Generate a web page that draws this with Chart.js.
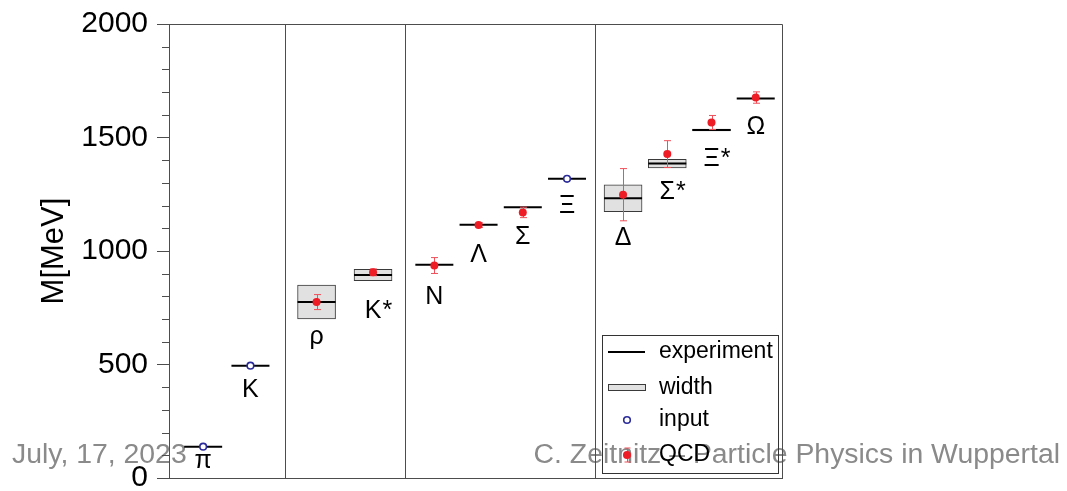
<!DOCTYPE html>
<html>
<head>
<meta charset="utf-8">
<title>Hadron masses</title>
<script src="https://cdn.jsdelivr.net/npm/chart.js@4/dist/chart.umd.min.js"></script>
<style>
  html, body { margin: 0; padding: 0; background: #fff; }
  #wrap { width: 1067px; height: 491px; position: relative; }
</style>
</head>
<body>
<div id="wrap"><canvas id="massChart"></canvas></div>
<script>
// Light hadron spectrum: experiment vs. lattice QCD
const particles = ['π', 'K', 'ρ', 'K*', 'N', 'Λ', 'Σ', 'Ξ', 'Δ', 'Σ*', 'Ξ*', 'Ω'];
const xPos = [0.78, 1.86, 3.37, 4.66, 6.06, 7.07, 8.08, 9.09, 10.37, 11.38, 12.39, 13.40];
const expMass = [138, 495, 775, 894, 939, 1116, 1193, 1318, 1232, 1385, 1533, 1672];
const decayWidth = [null, null, 149, 50, null, null, null, null, 118, 38, 9, null];
const inputMass = [138, 495, null, null, null, null, null, 1318, null, null, null, null];
const qcdMass = [null, null, 775, 906, 936, 1114, 1170, null, 1248, 1427, 1566, 1676];
const qcdErr = [null, null, 33, 15, 35, 10, 23, null, 115, 59, 31, 25];
const groupEdges = [2.66, 5.39, 9.73];
const majorStep = 500;
const minorStep = 100;
const legendLabels = ['experiment', 'width', 'input', 'QCD'];
const footerLeft = 'July, 17, 2023';
const footerRight = 'C. Zeitnitz – Particle Physics in Wuppertal';

const FONT = '"Liberation Sans", Arial, sans-serif';
const FRAME = '#4d4d4d';
const RED = '#ee1c25';
const RED_BAR = '#f0505a';
const BLUE = '#2b2b9b';

// gap (px) between the lowest edge of a mark and its label baseline
const labelGap = [21, 31, 25, 37, 39, 37, 37, 34, 33, 31, 35, 36];

const boxData = [];
const expData = [];
const inputData = [];
const qcdData = [];
particles.forEach((p, i) => {
    expData.push({ x: xPos[i], y: expMass[i] });
    if (decayWidth[i] != null) {
        boxData.push({ x: xPos[i], y: [expMass[i] - decayWidth[i] / 2, expMass[i] + decayWidth[i] / 2] });
    }
    if (inputMass[i] != null) inputData.push({ x: xPos[i], y: inputMass[i] });
    if (qcdMass[i] != null) qcdData.push({ x: xPos[i], y: qcdMass[i] });
});

function drawErrorBar(ctx, px, top, bot, cap) {
    ctx.beginPath();
    ctx.moveTo(px, top); ctx.lineTo(px, bot);
    ctx.moveTo(px - cap, top); ctx.lineTo(px + cap, top);
    ctx.moveTo(px - cap, bot); ctx.lineTo(px + cap, bot);
    ctx.stroke();
}

const decorations = {
    id: 'decorations',
    beforeDraw(chart) {
        // slide footer sits underneath the plot
        const { ctx } = chart;
        ctx.save();
        ctx.fillStyle = '#8a8a8a';
        ctx.font = '28.4px ' + FONT;
        ctx.textBaseline = 'alphabetic';
        ctx.textAlign = 'left';
        ctx.fillText(footerLeft, 12, 463);
        ctx.textAlign = 'right';
        ctx.fillText(footerRight, 1060, 463);
        ctx.restore();
    },
    beforeDatasetDraw(chart, args) {
        if (args.meta.label !== 'QCD') return;
        const { ctx, scales: { x, y } } = chart;
        ctx.save();
        ctx.strokeStyle = RED_BAR;
        ctx.lineWidth = 1;
        qcdMass.forEach((m, i) => {
            if (m == null) return;
            const px = Math.round(x.getPixelForValue(xPos[i])) + 0.5;
            drawErrorBar(ctx, px, y.getPixelForValue(m + qcdErr[i]), y.getPixelForValue(m - qcdErr[i]), 3.5);
        });
        ctx.restore();
    },
    afterDatasetsDraw(chart) {
        const { ctx, chartArea: a, scales: { x, y } } = chart;
        ctx.save();

        // frame (top and right sides)
        ctx.strokeStyle = FRAME;
        ctx.lineWidth = 1;
        ctx.beginPath();
        ctx.moveTo(Math.round(a.left) + 0.5, Math.round(a.top) + 0.5);
        ctx.lineTo(Math.round(a.right) + 0.5, Math.round(a.top) + 0.5);
        ctx.lineTo(Math.round(a.right) + 0.5, Math.round(a.bottom) + 0.5);
        ctx.stroke();

        // minor ticks on the mass axis
        ctx.beginPath();
        for (let v = minorStep; v < y.max; v += minorStep) {
            if (v % majorStep === 0) continue;
            const py = Math.round(y.getPixelForValue(v)) + 0.5;
            ctx.moveTo(a.left - 7, py);
            ctx.lineTo(a.left, py);
        }
        ctx.stroke();

        // particle names under each mark
        ctx.fillStyle = '#000';
        ctx.font = '25px ' + FONT;
        ctx.textBaseline = 'alphabetic';
        particles.forEach((p, i) => {
            let low = expMass[i];
            if (decayWidth[i] != null) low -= decayWidth[i] / 2;
            const px = x.getPixelForValue(xPos[i]);
            const py = y.getPixelForValue(low) + labelGap[i];
            const base = p.replace('*', '');
            ctx.textAlign = 'center';
            ctx.fillText(base, px, py);
            if (p.endsWith('*')) {
                ctx.textAlign = 'left';
                ctx.fillText('*', px + ctx.measureText(base).width / 2 + 1, py);
            }
        });
        ctx.restore();
    },
    afterDraw(chart) {
        const { ctx } = chart;
        ctx.save();

        // legend box (transparent)
        const L = { left: 602, top: 335, right: 778, bottom: 473 };
        ctx.strokeStyle = '#333';
        ctx.lineWidth = 1;
        ctx.strokeRect(L.left + 0.5, L.top + 0.5, L.right - L.left, L.bottom - L.top);

        const rows = [352, 388, 420, 455];
        const sx = 627;

        ctx.strokeStyle = '#000';
        ctx.lineWidth = 2;
        ctx.beginPath();
        ctx.moveTo(608, rows[0]); ctx.lineTo(645, rows[0]);
        ctx.stroke();

        ctx.fillStyle = '#e1e1e1';
        ctx.fillRect(608, rows[1] - 3, 37, 6);
        ctx.strokeStyle = '#3a3a3a';
        ctx.lineWidth = 1;
        ctx.strokeRect(608.5, rows[1] - 3.5, 37, 6);

        ctx.strokeStyle = BLUE;
        ctx.lineWidth = 1.6;
        ctx.beginPath();
        ctx.arc(sx, rows[2], 3.3, 0, Math.PI * 2);
        ctx.stroke();

        ctx.strokeStyle = RED_BAR;
        ctx.lineWidth = 1;
        drawErrorBar(ctx, sx + 0.5, rows[3] - 7, rows[3] + 7, 3);
        ctx.fillStyle = RED;
        ctx.beginPath();
        ctx.arc(sx, rows[3], 4, 0, Math.PI * 2);
        ctx.fill();

        ctx.fillStyle = '#000';
        ctx.font = '23px ' + FONT;
        ctx.textAlign = 'left';
        ctx.textBaseline = 'middle';
        legendLabels.forEach((t, i) => ctx.fillText(t, 659, rows[i]));
        ctx.restore();
    }
};

const ctx = document.getElementById('massChart').getContext('2d');

new Chart(ctx, {
    type: 'scatter',
    data: {
        datasets: [{
            type: 'bar',
            label: 'width',
            data: boxData,
            backgroundColor: '#e1e1e1',
            borderColor: '#3a3a3a',
            borderWidth: 1,
            borderSkipped: false,
            barThickness: 38,
            order: 4
        }, {
            label: 'experiment',
            data: expData,
            pointStyle: 'line',
            pointRadius: 19,
            pointHoverRadius: 19,
            pointBorderWidth: 2,
            borderColor: '#000',
            order: 3
        }, {
            label: 'input',
            data: inputData,
            pointStyle: 'circle',
            pointRadius: 3.3,
            pointBorderWidth: 1.6,
            borderColor: BLUE,
            backgroundColor: '#fff',
            order: 2
        }, {
            label: 'QCD',
            data: qcdData,
            pointStyle: 'circle',
            pointRadius: 4,
            pointBorderWidth: 0,
            backgroundColor: RED,
            borderColor: RED,
            order: 1
        }]
    },
    options: {
        responsive: true,
        maintainAspectRatio: false,
        animation: false,
        layout: {
            autoPadding: false,
            padding: { top: 24, right: 285, bottom: 0, left: 0 }
        },
        plugins: {
            legend: { display: false },
            tooltip: { enabled: false }
        },
        scales: {
            x: {
                type: 'linear',
                min: 0,
                max: 14,
                offset: false,
                afterBuildTicks: (scale) => {
                    scale.ticks = groupEdges.map(v => ({ value: v }));
                },
                afterFit: (scale) => { scale.height = 13; },
                ticks: { display: false },
                grid: { color: FRAME, lineWidth: 1, drawTicks: false, offset: false },
                border: { display: true, color: FRAME, width: 1 }
            },
            y: {
                min: 0,
                max: 2000,
                afterFit: (scale) => {
                    scale.width = 169;
                    scale.paddingTop = 0;
                    scale.paddingBottom = 0;
                },
                ticks: {
                    stepSize: minorStep,
                    autoSkip: false,
                    padding: 9,
                    color: '#000',
                    font: { family: FONT, size: 30 },
                    callback: (v) => (v % majorStep === 0 ? v : '')
                },
                grid: {
                    drawOnChartArea: false,
                    drawTicks: true,
                    tickLength: 12,
                    tickColor: (c) => (c.tick && c.tick.value % majorStep === 0 ? FRAME : 'rgba(0,0,0,0)')
                },
                border: { display: true, color: FRAME, width: 1 },
                title: {
                    display: true,
                    text: 'M[MeV]',
                    color: '#000',
                    font: { family: FONT, size: 31 },
                    padding: { top: 36, bottom: 0 }
                }
            }
        }
    },
    plugins: [decorations]
});
</script>
</body>
</html>
